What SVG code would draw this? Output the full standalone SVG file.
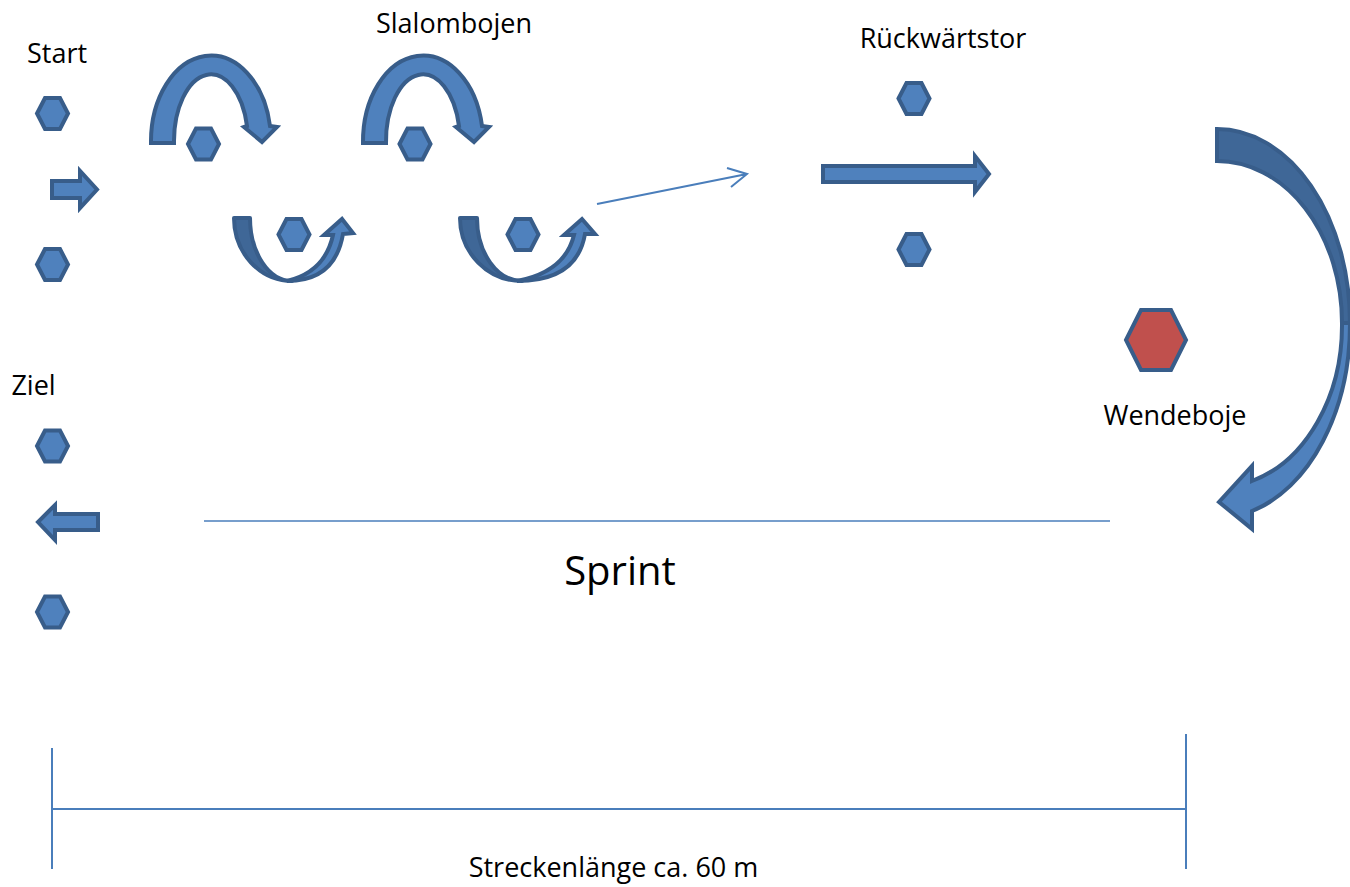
<svg xmlns="http://www.w3.org/2000/svg" xmlns:xlink="http://www.w3.org/1999/xlink" width="1350" height="887" viewBox="0 0 1350 887">
<style>
.lbl{font-family:"Open Sans","Liberation Sans",sans-serif;font-size:27px;fill:#000;text-anchor:middle}
.big{font-size:40px}
.shape{fill:#4F81BD;stroke:#385D8A;stroke-width:4;stroke-linejoin:miter}
.back{fill:#3F6797;stroke:#385D8A;stroke-width:4;stroke-linejoin:round}
.red{fill:#C0504D;stroke:#385D8A;stroke-width:4}
.thin{fill:none;stroke:#4A7EBB;stroke-width:2}
</style>
<defs>
<polygon id="hex" points="-15.5,0 -7.5,-15.5 7.5,-15.5 15.5,0 7.5,15.5 -7.5,15.5" class="shape"/>
<path id="upArc" d="M151,143 A60,86 0 0 1 270,126 L277,127 L262,142 L244,127 L247,126 A37,67 0 0 0 174,143 Z" class="shape"/>
</defs>
<rect width="1350" height="887" fill="#fff"/>

<g id="start">
<text class="lbl" x="57" y="63">Start</text>
<use xlink:href="#hex" x="52.5" y="113.5"/>
<use xlink:href="#hex" x="52.5" y="264.5"/>
</g>
<g id="slalom">
<text class="lbl" x="454" y="33">Slalombojen</text>
<use xlink:href="#hex" x="203.5" y="144"/>
<use xlink:href="#hex" x="415" y="144"/>
<use xlink:href="#hex" x="294" y="234.5"/>
<use xlink:href="#hex" x="523" y="234.5"/>
</g>
<g id="rueckwaertstor">
<text class="lbl" x="943" y="48">Rückwärtstor</text>
<use xlink:href="#hex" x="914" y="98.5"/>
<use xlink:href="#hex" x="914" y="249.5"/>
</g>
<g id="wendeboje">
<polygon class="red" points="1126,340 1141,310 1171,310 1186,340 1171,370 1141,370"/>
<text class="lbl" x="1175" y="425">Wendeboje</text>
</g>
<g id="ziel">
<text class="lbl" x="33.5" y="395">Ziel</text>
<use xlink:href="#hex" x="52.5" y="446"/>
<use xlink:href="#hex" x="52.5" y="612"/>
</g>
<g id="sprint">
<text class="lbl big" x="620" y="585">Sprint</text>
</g>
<g id="strecke">
<text class="lbl" x="613.5" y="877">Streckenlänge ca. 60 m</text>
</g>

<g id="connectors">
<path class="shape" d="M52,181 L80,181 L80,171 L97,189.5 L80,208 L80,198 L52,198 Z"/>
<use xlink:href="#upArc"/>
<use xlink:href="#upArc" transform="translate(212,0)"/>
<path class="back" d="M234,218 L250,218 A42,63 0 0 0 292,281 A58,63 0 0 1 234,218 Z"/>
<path class="shape" d="M287,281 Q335,281 343,234 L353,233 L342,219 L324,235 L333,235 Q325,272 287,281 Z"/>
<path class="back" d="M460,218 L477,218 A45,63 0 0 0 522,281 A62,63 0 0 1 460,218 Z"/>
<path class="shape" d="M517,281 Q577,281 585,234 L595,234 L582,219 L564,235 L574,235 Q565,272 517,281 Z"/>
<path class="thin" d="M597,204 L747,174 M727,168 L747,174 L731,187"/>
<path class="shape" d="M823,166 L975,166 L975,156 L989,174 L975,192 L975,182 L823,182 Z"/>
<path class="back" d="M1217,129 A133,194 0 0 1 1350,323 L1342,323 A125,162 0 0 0 1217,161 Z" style="stroke-linejoin:miter"/>
<path class="shape" d="M1350,323 A133,194 0 0 1 1252,511 L1252,529 L1219,502 L1252,466 L1252,481 A124,162 0 0 0 1342,323 Z"/>
<path class="shape" d="M98,514 L55,514 L55,505 L38,522 L55,540 L55,530 L98,530 Z"/>
<line class="thin" x1="204" y1="521" x2="1110" y2="521" style="stroke-width:1.5"/>
<line class="thin" x1="52" y1="748" x2="52" y2="869"/>
<line class="thin" x1="1186" y1="734" x2="1186" y2="869"/>
<line class="thin" x1="52" y1="809" x2="1186" y2="809"/>
</g>
</svg>
